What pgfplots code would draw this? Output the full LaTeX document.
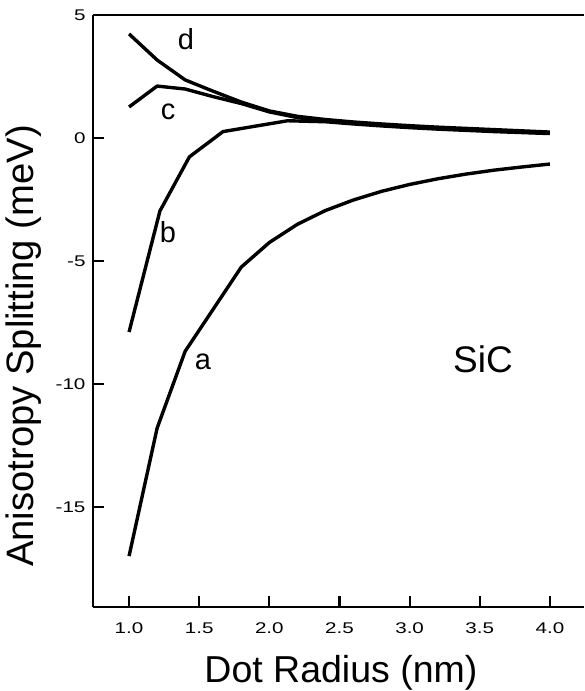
\documentclass[border=0pt]{standalone}
\usepackage{pgfplots}
\pgfplotsset{compat=1.18}
\usepackage{fontspec}
\setmainfont{Liberation Sans}
\newfontfamily\tickfont[FakeStretch=1.33]{Liberation Sans}
\begin{document}
\begin{tikzpicture}
\begin{axis}[
  scale only axis,
  width=491pt, height=592pt,
  xmin=0.743, xmax=4.243,
  ymin=-19.07, ymax=5,
  axis x line*=bottom, axis y line*=left,
  axis line style={line width=2.8pt, -},
  xtick={1,1.5,2,2.5,3,3.5,4},
  xticklabels={1.0,1.5,2.0,2.5,3.0,3.5,4.0},
  ytick={-15,-10,-5,0,5},
  yticklabels={-15,-10,-5,0,5},
  tick align=inside,
  major tick length=11pt,
  minor tick num=0,
  tick style={line width=2.2pt, black},
  x tick label style={font=\tickfont\fontsize{15.5}{17}\selectfont, yshift=-12pt},
  y tick label style={font=\tickfont\fontsize{15.5}{17}\selectfont, xshift=-4pt},
  xlabel={Dot Radius (nm)},
  ylabel={Anisotropy Splitting (meV)},
  xlabel style={font=\fontsize{37.5}{40}\selectfont, at={(axis description cs:0.505,-0.1267)}, anchor=base},
  ylabel style={font=\fontsize{38.2}{40}\selectfont, at={(axis description cs:-0.1222,0.441)}, anchor=base},
  clip=false,
]
\draw[line width=1.3pt] (rel axis cs:0,1) -- (rel axis cs:1,1);
\addplot[black, line width=3.4pt, line join=round] coordinates {
 (1.0,-17.0) (1.2,-11.8) (1.4,-8.67) (1.8,-5.25) (2.0,-4.25) (2.2,-3.51)
 (2.4,-2.95) (2.6,-2.52) (2.8,-2.17) (3.0,-1.89) (3.2,-1.66) (3.4,-1.47)
 (3.6,-1.31) (3.8,-1.18) (4.0,-1.06)};
\addplot[black, line width=3.4pt, line join=round] coordinates {
 (1.0,-7.89) (1.22,-2.97) (1.43,-0.77) (1.67,0.26) (2.13,0.70) (2.4,0.66)
 (2.6,0.57) (2.8,0.49) (3.0,0.42) (3.2,0.36) (3.4,0.31) (3.6,0.26)
 (3.8,0.22) (4.0,0.18)};
\addplot[black, line width=3.4pt, line join=round] coordinates {
 (1.0,1.26) (1.2,2.11) (1.4,1.99) (1.6,1.68) (1.8,1.40) (2.0,1.06)
 (2.2,0.83) (2.4,0.70) (2.6,0.60) (2.8,0.52) (3.0,0.45) (3.2,0.39)
 (3.4,0.34) (3.6,0.29) (3.8,0.24) (4.0,0.20)};
\addplot[black, line width=3.4pt, line join=round] coordinates {
 (1.0,4.23) (1.2,3.17) (1.4,2.36) (1.6,1.90) (1.8,1.46) (2.0,1.10)
 (2.2,0.88) (2.4,0.75) (2.6,0.65) (2.8,0.57) (3.0,0.50) (3.2,0.44)
 (3.4,0.39) (3.6,0.34) (3.8,0.29) (4.0,0.24)};
\node[font=\fontsize{29}{31}\selectfont, anchor=base, inner sep=0pt] at (axis cs:1.406,3.58) {d};
\node[font=\fontsize{29}{31}\selectfont, anchor=base, inner sep=0pt] at (axis cs:1.278,0.77) {c};
\node[font=\fontsize{29}{31}\selectfont, anchor=base, inner sep=0pt] at (axis cs:1.278,-4.27) {b};
\node[font=\fontsize{29}{31}\selectfont, anchor=base, inner sep=0pt] at (axis cs:1.527,-9.43) {a};
\node[font=\fontsize{37}{40}\selectfont, anchor=base, inner sep=0pt] at (axis cs:3.523,-9.55) {SiC};
\end{axis}
\pgfresetboundingbox
\path (-93pt,-84pt) rectangle (491pt,607pt);
\end{tikzpicture}
\end{document}
